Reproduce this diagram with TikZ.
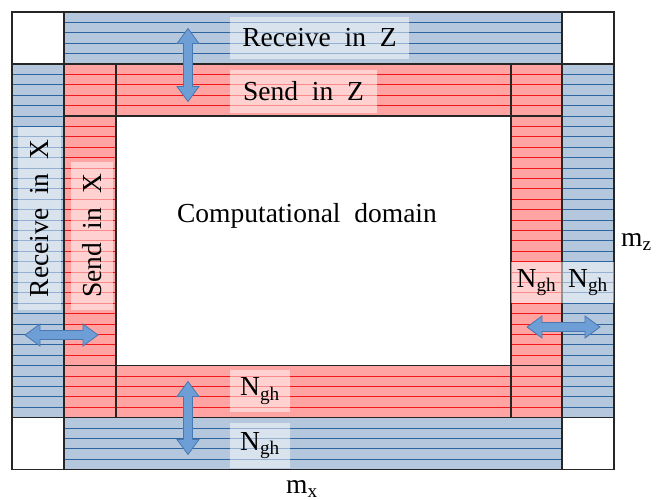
\documentclass[tikz,border=0pt]{standalone}
\usepackage{fontspec}
\setmainfont{Liberation Serif}
\definecolor{bandblue}{HTML}{B4C7DC}
\definecolor{bandred}{HTML}{FFA3A3}
\definecolor{stripeblue}{HTML}{2E64A0}
\definecolor{stripered}{HTML}{F01818}
\definecolor{arrowfill}{HTML}{6E9ED6}
\definecolor{arrowedge}{HTML}{4A78B0}
\newcommand{\wsp}{\hspace{0.5em}}
\begin{document}
\begin{tikzpicture}[x=1pt,y=-1pt,
  frame/.style={draw=black!85, line width=1.4pt},
  blueline/.style={draw=stripeblue, line width=0.8pt},
  redline/.style={draw=stripered, line width=0.8pt},
  lbl/.style={fill=white, fill opacity=0.5, text opacity=1, inner sep=0pt,
              font=\fontsize{27.5}{32}\selectfont},
  plain/.style={inner sep=0pt, font=\fontsize{27.5}{32}\selectfont},
  arrowshape/.style={fill=arrowfill, draw=arrowedge, line width=0.8pt},
  dblarrow/.pic={\path[arrowshape] (-36.5,0) -- (-21.5,-11) -- (-21.5,-4.5) -- (21.5,-4.5)
     -- (21.5,-11) -- (36.5,0) -- (21.5,11) -- (21.5,4.5) -- (-21.5,4.5) -- (-21.5,11) -- cycle;}
]
\useasboundingbox (0,0) rectangle (667,500);
% blue region
\fill[bandblue] (64,12) rectangle (562,64) (64,417.6) rectangle (562,469.6)
  (12,64) rectangle (64,417.6) (562,64) rectangle (614,417.6);
\begin{scope}
  \clip (64,12) rectangle (562,64) (64,417.6) rectangle (562,469.6)
    (12,64) rectangle (64,417.6) (562,64) rectangle (614,417.6);
  \foreach \k in {1,...,43} \draw[blueline] (0,12+10.4*\k) -- (667,12+10.4*\k);
\end{scope}
% red region
\fill[bandred] (64,64) rectangle (562,116) (64,365.6) rectangle (562,417.6)
  (64,116) rectangle (116,365.6) (511,116) rectangle (562,365.6);
\begin{scope}
  \clip (64,64) rectangle (562,116) (64,365.6) rectangle (562,417.6)
    (64,116) rectangle (116,365.6) (511,116) rectangle (562,365.6);
  \foreach \k in {6,...,38} \draw[redline] (0,12+10.4*\k) -- (667,12+10.4*\k);
\end{scope}
% borders
\draw[frame] (12,12) rectangle (64,64);
\draw[frame] (562,12) rectangle (614,64);
\draw[frame] (12,417.6) rectangle (64,469.6);
\draw[frame] (562,417.6) rectangle (614,469.6);
\draw[frame] (64,12) rectangle (562,64);
\draw[frame] (64,417.6) rectangle (562,469.6);
\draw[frame] (12,64) rectangle (64,417.6);
\draw[frame] (562,64) rectangle (614,417.6);
\draw[frame] (64,64) rectangle (562,417.6);
\draw[frame] (116,64) -- (116,417.6);
\draw[frame] (511,64) -- (511,417.6);
\draw[frame] (64,116) -- (562,116);
\draw[frame] (64,365.6) -- (562,365.6);
\node[fill=white, frame, minimum width=395pt, minimum height=249.6pt,
  inner sep=0pt] (dom) at (313.5,240.8) {};
\node[plain] (domtxt) at (307,216) {Computational\wsp domain};
% labels
\node[lbl, minimum width=179pt, minimum height=42pt] (rz) at (319.5,38) {Receive\wsp in\wsp Z};
\node[lbl, minimum width=147pt, minimum height=43pt] (sz) at (303.5,91.5) {Send\wsp in\wsp Z};
\node[lbl, rotate=90, minimum width=183pt, minimum height=43pt] (rx) at (39.5,218.5) {Receive\wsp in\wsp X};
\node[lbl, rotate=90, minimum width=148pt, minimum height=42pt] (sx) at (92,236) {Send\wsp in\wsp X};
\node[lbl, minimum width=51pt, minimum height=41pt] (ngr) at (536.5,282.5) {N\textsubscript{gh}};
\node[lbl, minimum width=52pt, minimum height=41pt] (ngb) at (588,282.5) {N\textsubscript{gh}};
\node[lbl, minimum width=60pt, minimum height=42pt] (ngbr) at (260,391) {N\textsubscript{gh}};
\node[lbl, minimum width=60pt, minimum height=45pt] (ngbb) at (260,445.5) {N\textsubscript{gh}};
\node[plain] (mx) at (302,489) {m\textsubscript{x}};
\node[plain, anchor=west] (mz) at (621,242) {m\textsubscript{z}};
% arrows
\pic[rotate=90] at (188,65) {dblarrow};
\pic[rotate=90] at (188,418) {dblarrow};
\pic at (61.5,335) {dblarrow};
\pic at (563.5,327) {dblarrow};
\end{tikzpicture}
\end{document}
